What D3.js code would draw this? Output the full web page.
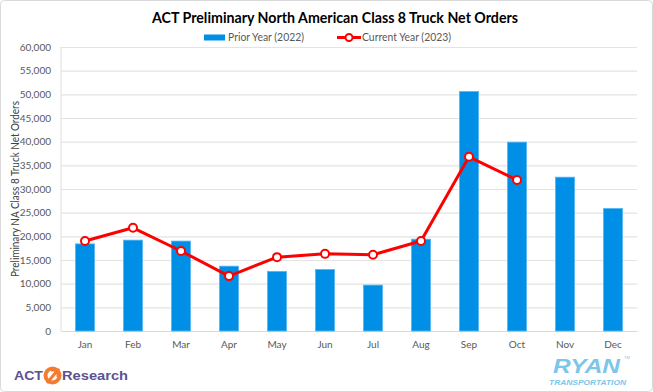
<!DOCTYPE html>
<html><head><meta charset="utf-8">
<script src="https://cdn.jsdelivr.net/npm/d3@7"></script>
<style>
html,body{margin:0;padding:0;background:#fff;}
svg{display:block;font-family:Lato,"Open Sans",sans-serif;}
</style></head>
<body><svg id="c" width="653" height="392"></svg>
<script>
const months = ["Jan","Feb","Mar","Apr","May","Jun","Jul","Aug","Sep","Oct","Nov","Dec"];
const prior2022 = [18400,19200,19000,13700,12600,13000,9700,19400,50600,39900,32500,25900];
const current2023 = [19000,21800,16900,11600,15600,16300,16100,19000,36800,31900,null,null];
const yTicks = [0,5000,10000,15000,20000,25000,30000,35000,40000,45000,50000,55000,60000];

const svg = d3.select("#c");
svg.append("rect").attr("x",0.5).attr("y",0.5).attr("width",652).attr("height",391)
  .attr("rx",4).attr("fill","#fff").attr("stroke","#d9d9d9");

const m = {l:61, r:637, t:47, b:331};
const x = d3.scaleBand().domain(months).range([m.l,m.r]).paddingInner(0.6).paddingOuter(0.3);
const xc = d => x(d)+x.bandwidth()/2;
const y = d3.scaleLinear().domain([0,60000]).range([m.b,m.t]);

// gridlines
const yAxis = d3.axisLeft(y).tickValues(yTicks).tickSize(-(m.r-m.l)).tickPadding(10).tickFormat(d3.format(","));
const gy = svg.append("g").attr("transform",`translate(${m.l},0)`).call(yAxis);
gy.select(".domain").remove();
gy.selectAll(".tick line").attr("stroke","#e3e3e3").attr("stroke-width",1.2);
gy.selectAll(".tick text").attr("fill","#595959").attr("font-size",10).attr("font-family","Lato,'Open Sans',sans-serif");

// left axis line
svg.append("line").attr("x1",m.l).attr("x2",m.l).attr("y1",m.t).attr("y2",m.b).attr("stroke","#e3e3e3").attr("stroke-width",1.2);

// x axis
const xAxis = d3.axisBottom(x).tickSize(0).tickPadding(10);
const gx = svg.append("g").attr("transform",`translate(0,${m.b})`).call(xAxis);
gx.select(".domain").attr("stroke","#d9d9d9");
gx.selectAll(".tick text").attr("fill","#595959").attr("font-size",10).attr("font-family","Lato,'Open Sans',sans-serif");

// bars
svg.append("g").selectAll("rect").data(prior2022).join("rect")
  .attr("x",(d,i)=>x(months[i])).attr("width",x.bandwidth())
  .attr("y",d=>y(d)).attr("height",d=>y(0)-y(d))
  .attr("fill","#008fe6").attr("stroke","#5ab7f0").attr("stroke-width",0.8);

// line
const pts = current2023.map((v,i)=>({m:months[i],v})).filter(d=>d.v!=null);
svg.append("path").datum(pts)
  .attr("d",d3.line().x(d=>xc(d.m)).y(d=>y(d.v)))
  .attr("fill","none").attr("stroke","#ff0000").attr("stroke-width",3).attr("stroke-linejoin","round");
svg.append("g").selectAll("circle").data(pts).join("circle")
  .attr("cx",d=>xc(d.m)).attr("cy",d=>y(d.v)).attr("r",4)
  .attr("fill","#fff").attr("stroke","#ff0000").attr("stroke-width",2);

// title
svg.append("text").attr("x",152).attr("y",23)
  .attr("font-size",15).attr("font-weight","bold").attr("fill","#000")
  .attr("textLength",366).attr("lengthAdjust","spacingAndGlyphs")
  .text("ACT Preliminary North American Class 8 Truck Net Orders");

// legend
const lg = svg.append("g");
lg.append("rect").attr("x",204).attr("y",34.5).attr("width",21).attr("height",6).attr("fill","#008fe6");
lg.append("text").attr("x",228).attr("y",41).attr("font-size",11).attr("fill","#595959")
  .attr("textLength",76).attr("lengthAdjust","spacingAndGlyphs").text("Prior Year (2022)");
lg.append("line").attr("x1",337).attr("x2",361).attr("y1",37.5).attr("y2",37.5).attr("stroke","#ff0000").attr("stroke-width",3);
lg.append("circle").attr("cx",349).attr("cy",37.5).attr("r",3.5).attr("fill","#fff").attr("stroke","#ff0000").attr("stroke-width",2);
lg.append("text").attr("x",362).attr("y",41).attr("font-size",11).attr("fill","#595959")
  .attr("textLength",89).attr("lengthAdjust","spacingAndGlyphs").text("Current Year (2023)");

// y axis title
svg.append("text").attr("transform","translate(18.5,189) rotate(-90)").attr("text-anchor","middle")
  .attr("font-size",11).attr("fill","#404040")
  .attr("textLength",176).attr("lengthAdjust","spacingAndGlyphs")
  .text("Preliminary NA Class 8 Truck Net Orders");

// logos as text
const act = svg.append("g");
act.append("text").attr("x",14).attr("y",380).attr("font-size",12.5).attr("font-weight","900")
  .attr("font-family","'Liberation Sans',Arial,sans-serif").attr("fill","#5b5291")
  .attr("textLength",29).attr("lengthAdjust","spacingAndGlyphs").text("ACT");
act.append("circle").attr("cx",52.5).attr("cy",375.5).attr("r",9).attr("fill","#f47b30");
act.append("circle").attr("cx",52.5).attr("cy",375.5).attr("r",5).attr("fill","#fff");
act.append("path").attr("d","M47,383 L57,371 M51,370 L58,370 L58,377").attr("stroke","#f47b30").attr("stroke-width",3).attr("fill","none");
act.append("text").attr("x",62).attr("y",380).attr("font-size",12.5).attr("font-weight","bold")
  .attr("font-family","'Liberation Sans',Arial,sans-serif").attr("fill","#5b5291")
  .attr("textLength",66).attr("lengthAdjust","spacingAndGlyphs").text("Research");

svg.append("text").attr("x",553).attr("y",373).attr("font-size",21)
  .attr("font-weight","900").attr("font-style","italic").attr("font-family","'Liberation Sans',Arial,sans-serif")
  .attr("fill","#7cc6ea").attr("textLength",67).attr("lengthAdjust","spacingAndGlyphs").text("RYAN");
svg.append("text").attr("x",624).attr("y",359).attr("font-size",4)
  .attr("font-family","'Liberation Sans',Arial,sans-serif").attr("fill","#7cc6ea").text("TM");
svg.append("text").attr("x",549).attr("y",385).attr("font-size",7.5)
  .attr("font-weight","bold").attr("font-style","italic").attr("font-family","'Liberation Sans',Arial,sans-serif")
  .attr("fill","#7cc6ea").attr("textLength",77).attr("lengthAdjust","spacingAndGlyphs").text("TRANSPORTATION");
</script></body></html>
